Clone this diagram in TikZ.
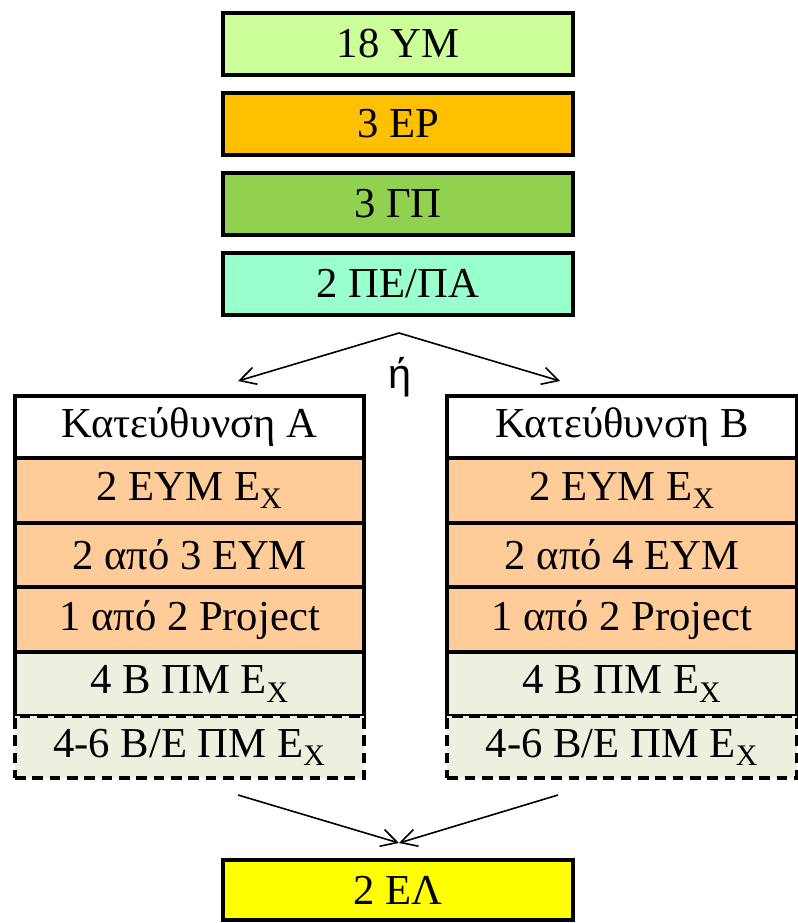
\documentclass[tikz,border=0pt]{standalone}
\usepackage{fontspec}
\setmainfont{Liberation Serif}
\newfontfamily\sansfam{Liberation Sans}
\usetikzlibrary{arrows.meta}
\definecolor{cym}{HTML}{CCFF99}
\definecolor{cep}{HTML}{FFC000}
\definecolor{cgp}{HTML}{92D050}
\definecolor{cpe}{HTML}{99FFCC}
\definecolor{cor}{HTML}{FFCC99}
\definecolor{clg}{HTML}{EBF1DE}
\definecolor{cye}{HTML}{FFFF00}
\begin{document}
\begin{tikzpicture}[x=0.75pt,y=-0.75pt,
  box/.style={draw=black, line width=3.2pt, inner sep=0pt, font=\fontsize{32}{33}\selectfont},
  topbox/.style={box, minimum width=263pt, minimum height=46pt},
  colbox/.style={box, minimum width=262pt},
  dashbox/.style={colbox, dash pattern=on 8pt off 5pt},
  conn/.style={line width=1.2pt, -{Straight Barb[length=12pt,width=13pt,line width=1.2pt]}}]
\useasboundingbox (0,0) rectangle (798,923);
\fill[white] (0,0) rectangle (798,923);
% top stack
\node[topbox, fill=cym] (ym) at (398,44) {18 YM};
\node[topbox, fill=cep] (ep) at (398,124) {3 EP};
\node[topbox, fill=cgp] (gp) at (398,204) {3 ΓΠ};
\node[topbox, fill=cpe] (pe) at (398,284) {2 ΠΕ/ΠΑ};
% or
\node[font=\sansfam\fontsize{31}{33}\selectfont] (or) at (400,377) {ή};
\coordinate (apex) at (399,333);
\coordinate (la) at (238,381);
\coordinate (ra) at (560,381);
\draw[conn] (apex) -- (la);
\draw[conn] (apex) -- (ra);
% column A
\node[colbox, fill=white, minimum height=47pt] (a0) at (189.5,427) {Κατεύθυνση Α};
\node[colbox, fill=cor, minimum height=48.75pt] (a1) at (189.5,490.5) {2 ΕΥΜ Ε\textsubscript{X}};
\node[colbox, fill=cor, minimum height=48pt] (a2) at (189.5,555) {2 από 3 ΕΥΜ};
\node[colbox, fill=cor, minimum height=48.75pt] (a3) at (189.5,619.5) {1 από 2 Project};
\node[colbox, fill=clg, minimum height=48pt] (a4) at (189.5,684) {4 Β ΠΜ Ε\textsubscript{X}};
\node[dashbox, fill=clg, minimum height=46.5pt] (a5) at (189.5,747) {4-6 Β/Ε ΠΜ Ε\textsubscript{X}};
% column B
\node[colbox, fill=white, minimum height=47pt] (b0) at (622,427) {Κατεύθυνση Β};
\node[colbox, fill=cor, minimum height=48.75pt] (b1) at (622,490.5) {2 ΕΥΜ Ε\textsubscript{X}};
\node[colbox, fill=cor, minimum height=48pt] (b2) at (622,555) {2 από 4 ΕΥΜ};
\node[colbox, fill=cor, minimum height=48.75pt] (b3) at (622,619.5) {1 από 2 Project};
\node[colbox, fill=clg, minimum height=48pt] (b4) at (622,684) {4 Β ΠΜ Ε\textsubscript{X}};
\node[dashbox, fill=clg, minimum height=46.5pt] (b5) at (622,747) {4-6 Β/Ε ΠΜ Ε\textsubscript{X}};
% bottom
\coordinate (lb) at (238,795);
\coordinate (rb) at (558,795);
\coordinate (tip) at (399,843);
\draw[conn] (lb) -- (tip);
\draw[conn] (rb) -- (tip);
\node[topbox, fill=cye, minimum height=45pt] (el) at (398,890) {2 ΕΛ};
\end{tikzpicture}
\end{document}
